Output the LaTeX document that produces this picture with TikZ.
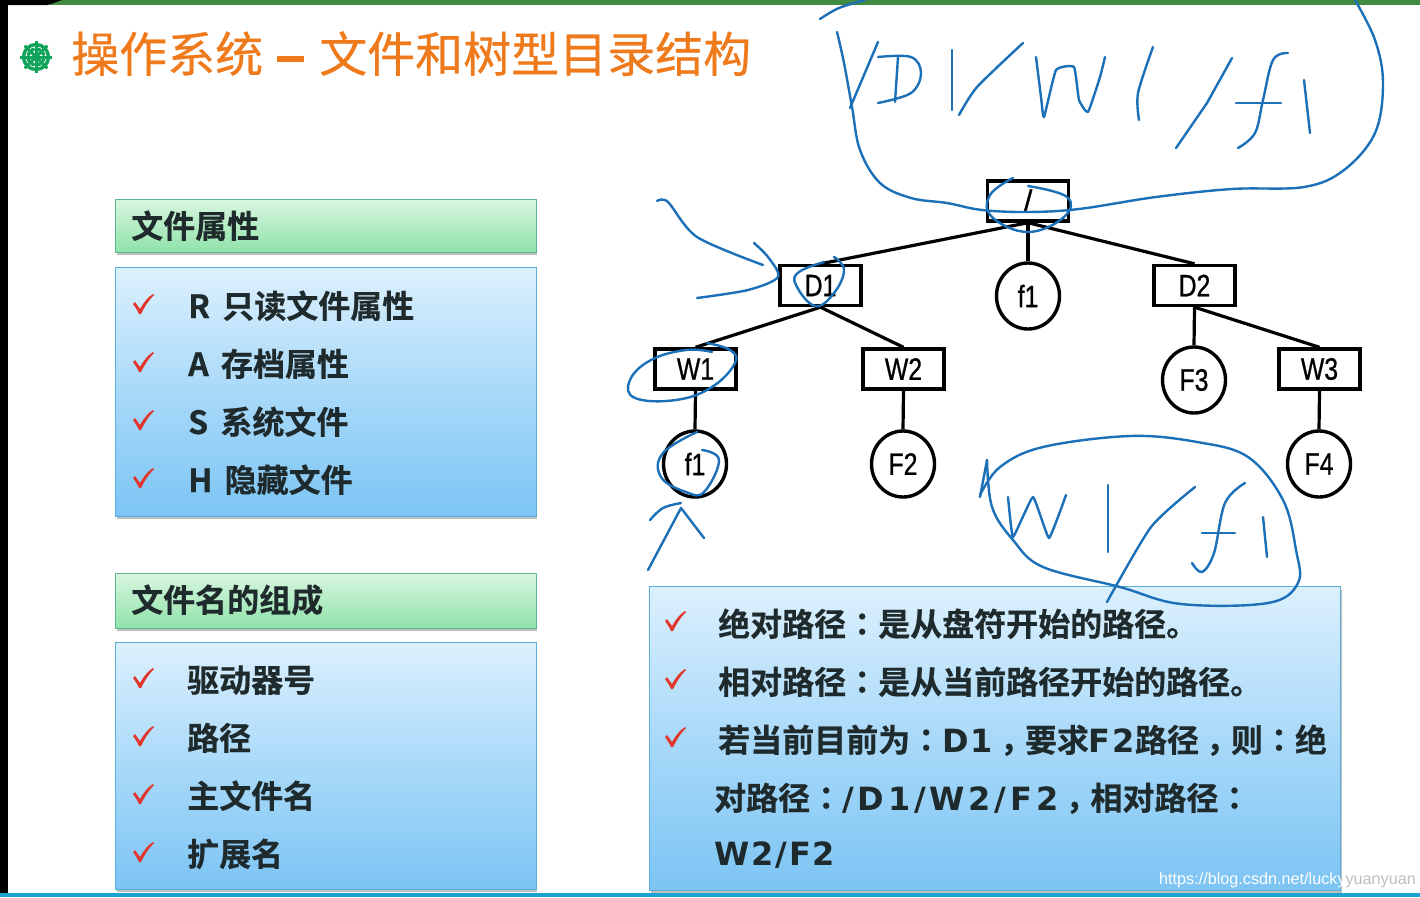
\documentclass[tikz,border=0pt]{standalone}
\usepackage{fontspec}
\setmainfont{Liberation Sans}
\newfontfamily\treefont[FakeBold=0.9]{Liberation Sans}
\newfontfamily\cjk[FakeBold=0.4]{Noto Sans CJK SC}
\newfontfamily\cjkb[FakeBold=0.5]{Noto Sans CJK SC Bold}
\newfontfamily\cjkp[FakeBold=0.5]{Noto Sans CJK TC Bold}
\newfontfamily\lat{DejaVu Sans Bold}
\newfontfamily\latw[LetterSpace=6]{DejaVu Sans Bold}
\newfontfamily\latx[LetterSpace=12]{DejaVu Sans Bold}
\newcommand{\cln}{{\cjkp ：}}
\newcommand{\cma}{\raisebox{-9pt}{\cjkp ，}}
\newcommand{\ltn}[1]{{\latw #1}}
\newcommand{\ltx}[1]{{\latx #1}}
\definecolor{ink}{HTML}{1B70B8}
\definecolor{title}{HTML}{EF7A1C}
\definecolor{bodytext}{HTML}{1E2A2C}
\definecolor{wheel}{HTML}{10A35A}
\definecolor{tick}{HTML}{E0362C}
\definecolor{topbar}{HTML}{418A42}
\definecolor{botbar}{HTML}{1BA3D4}
\tikzset{
 inkline/.style={draw=ink,line width=2.4pt,line cap=round,line join=round},
 panelbox/.style={draw=paneledge,line width=1pt,top color=paneltop,bottom color=panelbot,middle color=panelmid,inner sep=0pt,anchor=north west},
 headbox/.style={draw=headedge,line width=1pt,top color=headtop,bottom color=headbot,inner sep=0pt,anchor=north west},
 shadowbox/.style={fill=black!45,opacity=.55,draw=none},
 headtext/.style={anchor=base west,inner sep=0pt,text=bodytext,font=\cjkb\fontsize{32}{32}\selectfont},
 itemtext/.style={anchor=base west,inner sep=0pt,text=bodytext,font=\cjkb\fontsize{32}{32}\selectfont},
 dirbox/.style={draw=black,line width=3.4pt,fill=white,minimum width=81pt,minimum height=40pt,inner sep=0pt,font=\treefont\fontsize{31}{31}\selectfont},
 filecircle/.style={draw=black,line width=3.4pt,fill=white,ellipse,minimum width=63pt,minimum height=66pt,inner sep=0pt,font=\treefont\fontsize{31}{31}\selectfont},
 link/.style={draw=black,line width=3.2pt},
 checkmark/.pic={\fill[tick] (-10,-1) -- (-8,-3) -- (-3,4) .. controls (1,-3) and (5,-8) .. (10,-11) -- (11,-10) .. controls (5,-4) and (1,3) .. (-2,9) -- (-4,9) .. controls (-5,6) and (-8,2) .. (-10,-1) -- cycle;}
}
\definecolor{paneledge}{HTML}{5AAFD8}
\definecolor{paneltop}{HTML}{DCF0FD}
\definecolor{panelmid}{HTML}{A9D9F9}
\definecolor{panelbot}{HTML}{7CC4F4}
\definecolor{headedge}{HTML}{5FB58F}
\definecolor{headtop}{HTML}{D8F6DF}
\definecolor{headbot}{HTML}{8FE2A8}
\usetikzlibrary{shapes.geometric}
\newcommand{\nar}[1]{\scalebox{.8}[1]{#1}}
\begin{document}
\begin{tikzpicture}[x=1pt,y=-1pt]
\useasboundingbox (0,0) rectangle (1420,897);
\fill[white] (0,0) rectangle (1420,897);
% frame
\fill[black] (0,0) rectangle (8,897);
\fill[topbar] (50,0) rectangle (1420,5);
\fill[black] (0,0) -- (62,0) -- (48,5) -- (0,5) -- cycle;
\fill[botbar] (0,893) rectangle (1420,897);
% wheel
\draw[wheel,line width=3.4pt] (36,57) circle (12.5);
\foreach \a in {0,45,...,315}{
 \draw[wheel,line width=3pt] (36,57) -- ++(\a:16);
 \fill[wheel] (36,57) ++(\a+22:8) circle (2);
}
\node[anchor=base west,inner sep=0pt,text=title,font=\cjk\fontsize{48}{48}\selectfont] (titleA) at (71,72) {操作系统};
\node[anchor=center,inner sep=0pt,fill=title,minimum width=27pt,minimum height=6pt] (titleDash) at (290,59) {};
\node[anchor=base west,inner sep=0pt,text=title,font=\cjk\fontsize{48}{48}\selectfont] (titleB) at (319,72) {文件和树型目录结构};
% shadows
\fill[shadowbox] (117,203) rectangle (537,255);
\fill[shadowbox] (117,271) rectangle (537,519);
\fill[shadowbox] (117,577) rectangle (537,631);
\fill[shadowbox] (117,646) rectangle (537,892);
\fill[shadowbox] (651,590) rectangle (1342,893);
% panels
\node[headbox,minimum width=421pt,minimum height=53pt] (h1) at (115,199) {};
\node[panelbox,minimum width=421pt,minimum height=249pt] (p1) at (115,267) {};
\node[headbox,minimum width=421pt,minimum height=55pt] (h2) at (115,573) {};
\node[panelbox,minimum width=421pt,minimum height=247pt] (p2) at (115,642) {};
\node[panelbox,minimum width=691pt,minimum height=304pt] (p3) at (649,586) {};
\node[headtext] (h1t) at (131,238) {文件属性};
\node[headtext] (h2t) at (131,612) {文件名的组成};
\foreach \y in {305,363,421,479,679,737,795,853}{\pic at (143,\y) {checkmark};}
\foreach \y in {622,680,738}{\pic at (675,\y) {checkmark};}
\node[itemtext] (a1) at (188,318) {R\hspace{5pt} 只读文件属性};
\node[itemtext] (a2) at (188,376) {A\hspace{5pt} 存档属性};
\node[itemtext] (a3) at (188,434) {S\hspace{5pt} 系统文件};
\node[itemtext] (a4) at (188,492) {H\hspace{5pt} 隐藏文件};
\node[itemtext] (b1) at (187,692) {驱动器号};
\node[itemtext] (b2) at (187,750) {路径};
\node[itemtext] (b3) at (187,808) {主文件名};
\node[itemtext] (b4) at (187,866) {扩展名};
\node[itemtext] (c1) at (718,636) {绝对路径\cln 是从盘符开始的路径。};
\node[itemtext] (c2) at (718,694) {相对路径\cln 是从当前路径开始的路径。};
\node[itemtext] (c3) at (718,752) {若当前目前为\cln\ltn{D1}\cma 要求\ltn{F2}路径\cma 则\cln 绝};
\node[itemtext] (c4) at (714,810) {对路径\cln\ltx{/D1/W2/F2}\cma 相对路径\cln};
\node[itemtext] (c5) at (714,865) {\ltn{W2/F2}};
% tree
\node[dirbox] (root) at (1028,201) {/};
\node[dirbox] (D1) at (820.5,285.5) {\nar{D1}};
\node[dirbox] (D2) at (1194.5,285.5) {\nar{D2}};
\node[dirbox] (W1) at (695.5,369) {\nar{W1}};
\node[dirbox] (W2) at (903.5,369) {\nar{W2}};
\node[dirbox] (W3) at (1319.5,369) {\nar{W3}};
\node[filecircle] (f1a) at (1028,296) {\nar{f1}};
\node[filecircle] (F3) at (1194,380) {\nar{F3}};
\node[filecircle] (f1b) at (695,464) {\nar{f1}};
\node[filecircle] (F2) at (903,464) {\nar{F2}};
\node[filecircle] (F4) at (1319,464) {\nar{F4}};
\draw[link] (root.south) -- (D1.north);
\draw[link] (root.south) -- (f1a.north);
\draw[link] (root.south) -- (D2.north);
\draw[link] (D1.south) -- (W1.north);
\draw[link] (D1.south) -- (W2.north);
\draw[link] (D2.south) -- (F3.north);
\draw[link] (D2.south) -- (W3.north);
\draw[link] (W1.south) -- (f1b.north);
\draw[link] (W2.south) -- (F2.north);
\draw[link] (W3.south) -- (F4.north);
% handwriting, big loop
\begin{scope}[inkline]
\draw plot[smooth,tension=.6] coordinates {(820,19)(839,8)(865,0)};
\draw plot[smooth,tension=.6] coordinates {(837,32)(844,63)(852,107)(860,150)(880,183)(911,198)(947,203)(982,210)(1028,212)(1079,209)(1156,197)(1232,189)(1304,187)(1344,170)(1375,133)(1383,83)(1375,40)(1355,0)};
\draw (878,42) -- (850,108);
\draw plot[smooth,tension=.6] coordinates {(878,57)(911,57)(921,73)(911,93)(878,103)};
\draw (898,57) -- (895,102);
\draw (952,50) -- (952,110);
\draw plot[smooth,tension=.4] coordinates {(1023,43)(977,87)(959,115)};
\draw plot[smooth,tension=.25] coordinates {(1036,57)(1041,97)(1044,117)(1056,70)(1074,67)(1079,100)(1088,112)(1100,77)(1105,57)};
\draw plot[smooth,tension=.5] coordinates {(1153,47)(1138,93)(1139,120)};
\draw (1232,58) -- (1207,103) -- (1176,148);
\draw plot[smooth,tension=.6] coordinates {(1288,53)(1273,60)(1263,100)(1255,133)(1238,148)};
\draw (1236,103) -- (1281,103);
\draw (1304,80) -- (1310,133);
% root circle
\draw plot[smooth,tension=.7] coordinates {(1013,178)(990,195)(992,217)(1028,232)(1064,217)(1067,197)(1028,186)};
% D1 arrow and circle
\draw plot[smooth,tension=.5] coordinates {(657,201)(668,202)(697,237)(763,265)};
\draw plot[smooth,tension=.5] coordinates {(754,243)(768,257)(778,277)(748,290)(697,298)};
\draw plot[smooth,tension=.7] coordinates {(824,262)(799,272)(796,285)(815,306)(834,293)(844,270)(834,257)};
% W1 circle
\draw plot[smooth,tension=.7] coordinates {(712,352)(686,350)(651,360)(630,380)(635,398)(676,400)(712,387)(735,363)(730,350)(707,343)};
% f1 circle and arrow
\draw plot[smooth,tension=.7] coordinates {(697,432)(663,453)(661,477)(686,492)(704,492)(719,460)(702,450)};
\draw plot[smooth,tension=.6] coordinates {(650,520)(663,508)(681,503)};
\draw plot coordinates {(648,570)(681,508)(704,538)};
% second loop
\draw (987,460) -- (980,497);
\draw plot[smooth,tension=.6] coordinates {(980,495)(1000,467)(1043,447)(1130,436)(1197,442)(1248,457)(1283,500)(1296,550)(1298,583)(1268,603)(1181,604)(1120,587)(1043,567)(1013,540)(992,507)(987,460)};
\draw plot[smooth,tension=.2] coordinates {(1008,497)(1013,537)(1033,497)(1049,538)(1066,495)};
\draw (1108,485) -- (1108,552);
\draw plot[smooth,tension=.4] coordinates {(1195,487)(1151,527)(1107,602)};
\draw plot[smooth,tension=.6] coordinates {(1245,483)(1225,503)(1214,553)(1202,572)(1192,563)};
\draw (1202,533) -- (1235,533);
\draw (1263,517) -- (1267,557);
\end{scope}
\node[anchor=base west,inner sep=0pt,font=\fontsize{16.2}{18}\selectfont] (mark) at (1159,884) {\textcolor{white}{https://blog.csdn.net/lucky}\textcolor{black!25}{yuanyuan}};
\end{tikzpicture}
\end{document}
